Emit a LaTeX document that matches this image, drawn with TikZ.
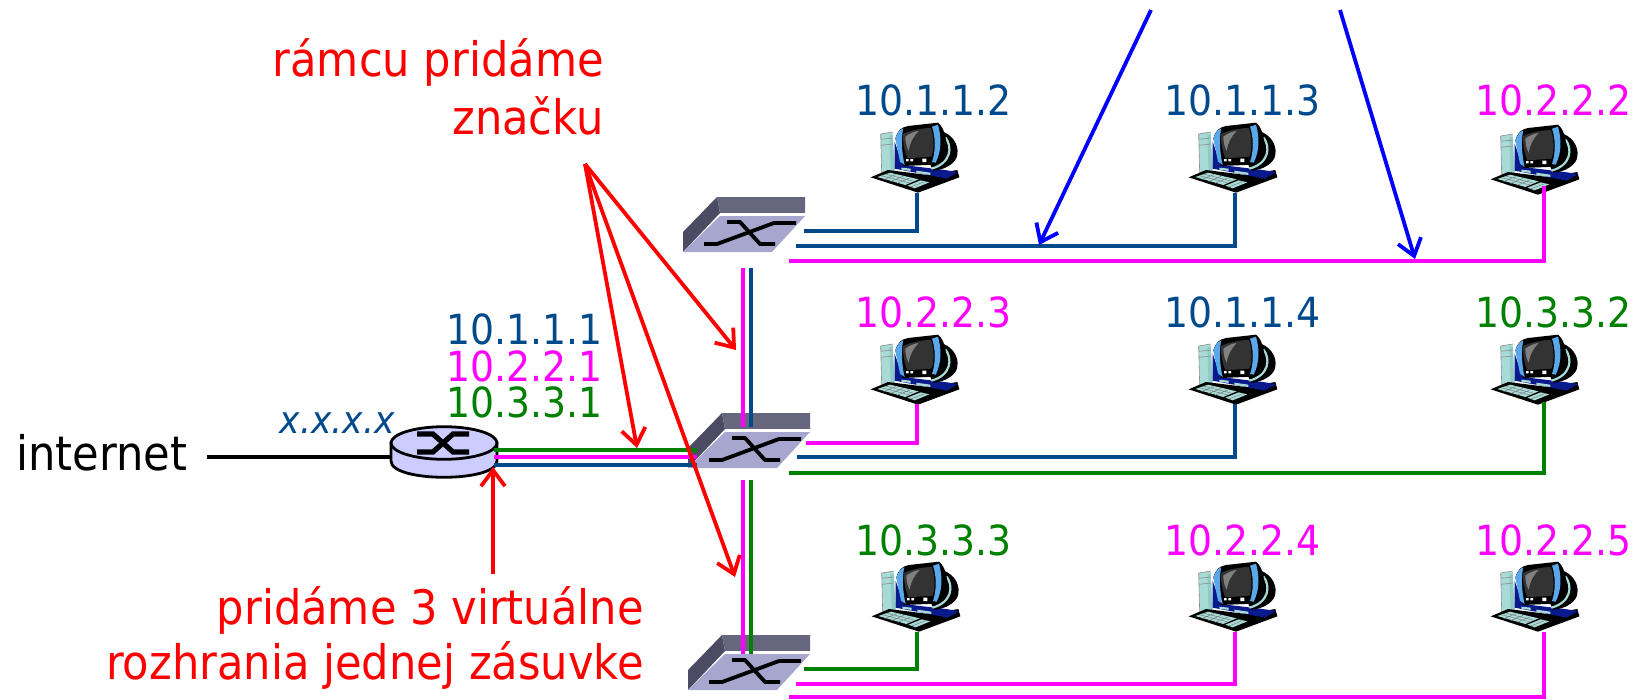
\documentclass[tikz,border=0pt]{standalone}
\usepackage{fontspec}
\setmainfont{DejaVu Sans}[FakeStretch=0.91]
\usetikzlibrary{arrows.meta}
\definecolor{netblue}{HTML}{004A8C}
\definecolor{netgreen}{HTML}{008000}
\definecolor{netpink}{HTML}{FF00FF}
\definecolor{pcteal}{HTML}{A8DAD6}
\definecolor{pcteald}{HTML}{8FCBC6}
\definecolor{pcnavy}{HTML}{0A1A8C}
\definecolor{pcbez}{HTML}{5AA8EA}
\definecolor{swface}{HTML}{A6A6CF}
\definecolor{swtop}{HTML}{66667F}
\definecolor{swleft}{HTML}{4B4B63}
\definecolor{rtfill}{HTML}{CCCCFF}
\tikzset{
 lab/.style={inner sep=0pt,font=\fontsize{41.5}{41.5}\selectfont,anchor=base west},
 labr/.style={lab,anchor=base east},
 bigl/.style={labr,font=\fontsize{47.5}{47.5}\selectfont},
 wireb/.style={draw=netblue,line width=3.7pt,line join=miter},
 wireg/.style={draw=netgreen,line width=3.7pt},
 wirep/.style={draw=netpink,line width=3.7pt},
 redarrow/.style={draw=red,line width=3.8pt,-{Straight Barb[length=16pt,width=24pt,line width=3.8pt]}},
 bluearrow/.style={draw=blue,line width=3.8pt,-{Straight Barb[length=16pt,width=24pt,line width=3.8pt]}},
 computer/.pic={
  \begin{scope}[scale=1/3]
   % tower
   \fill[pcteal] (38,42)--(74,36)--(80,155)--(41,160)--cycle;
   \fill[pcteald] (64,46)--(74,44)--(80,155)--(68,158)--cycle;
   \draw[black!45,line width=.6pt] (38,42)--(74,36) (38,58)--(74,54) (38,76)--(75,72) (38,42)--(41,160);
   % base
   \fill[black] (8,172)--(60,150)--(180,165)--(268,150)--(274,172)--(150,218)--cycle;
   % navy body
   \fill[pcnavy] (80,65)--(104,135)--(230,150)--(270,156)--(236,176)--(185,166)--(80,146)--cycle;
   % arc
   \fill[black] (225,35) .. controls (262,50) and (275,85) .. (266,112) .. controls (258,132) and (230,150) .. (195,152) -- (185,130) -- (215,125) -- cycle;
   \draw[pcteal,line width=2.2pt] (232,52) .. controls (254,80) and (250,130) .. (190,146);
   % monitor
   \fill[black] (82,55) .. controls (90,30) and (100,22) .. (120,18) -- (210,8) .. controls (226,20) and (236,50) .. (236,90) .. controls (232,110) and (218,128) .. (200,134) -- (104,138) -- cycle;
   \fill[pcbez] (82,55) .. controls (88,38) and (96,28) .. (106,25) .. controls (99,50) and (101,100) .. (110,135) -- (96,125) -- cycle;
   \fill[pcbez] (192,20) -- (210,14) .. controls (220,50) and (222,90) .. (203,128) -- (192,126) .. controls (204,90) and (202,50) .. cycle;
   \fill[black!80] (105,42) .. controls (130,30) and (165,24) .. (189,24) .. controls (199,55) and (199,90) .. (190,110) -- (118,115) .. controls (108,90) and (104,65) .. cycle;
   \fill[black!50] (112,50) .. controls (125,40) and (140,34) .. (152,33) .. controls (135,50) and (125,70) .. (122,92) .. controls (115,80) and (112,65) .. cycle;
   \fill[white] (114,117) rectangle (122,124) (127,117) rectangle (135,124) (163,116) rectangle (175,126);
   % stand strips
   \fill[pcteal] (100,143)--(128,146)--(128,153)--(100,149)--cycle (145,152)--(187,158)--(187,165)--(145,159)--cycle;
   % keyboard
   \fill[pcteal] (28,171)--(66,158)--(152,178)--(112,195)--cycle;
   \fill[pcteal] (118,197)--(158,181)--(184,187)--(140,205)--cycle;
   \draw[black!55,line width=.4pt] (40,167)--(126,189) (52,162)--(138,184) (47,179)--(85,163) (67,185)--(105,169) (87,190)--(125,174) (128,201)--(170,185);
  \end{scope}
 },
 ethswitch/.pic={
   \fill[swleft] (34,0)--(37,16)--(0,55)--(0,35)--cycle;
   \fill[swtop] (34,0)--(122,0)--(122,16)--(37,16)--cycle;
   \fill[white] (37,16)--(122,16)--(122,20)--(37,20)--cycle;
   \fill[swface] (37,19)--(122,19)--(89,55)--(0,55)--cycle;
   \draw[black,line width=3.8pt] (44,25)--(57,25)--(77,47)--(92,47);
   \draw[black,line width=3.8pt] (21,47)--(34,47)--(91,26)--(113,26);
 }
}
\begin{document}
\begin{tikzpicture}[x=1pt,y=-1pt]
\useasboundingbox (0,0) rectangle (1637,699);
% router
\coordinate (inetend) at (207,457);
\coordinate (rleft) at (395,457);
\draw[black,line width=3.2pt] (inetend)--(rleft);
\node[bigl,anchor=base west] (inet) at (16,470) {internet};
\filldraw[fill=rtfill,draw=black,line width=2.8pt] (391,443) -- (391,461) .. controls (391,482.7) and (497,482.7) .. (497,461) -- (497,443) -- cycle;
\filldraw[fill=rtfill,draw=black,line width=2.8pt] (444,443) ellipse[x radius=53,y radius=16.3];
\draw[black,line width=5.2pt] (417,434)--(433,434)--(453,452)--(469,452);
\draw[black,line width=5.2pt] (417,452)--(433,452)--(453,434)--(469,434);
\coordinate (router) at (444,443);
% switches
\coordinate (sw1) at (683,197);
\coordinate (sw2) at (688,413);
\coordinate (sw3) at (688,635);
\pic at (sw1) {ethswitch};
\pic at (sw2) {ethswitch};
\pic at (sw3) {ethswitch};
% computers
\foreach \n/\x/\y in {a/868/120,b/1186/120,c/1488/122,d/868/332,e/1186/332,f/1488/332,g/869/559,h/1186/559,i/1488/559}
  \pic at (\x,\y) {computer};
% ports
\coordinate (ha) at (917,193); \coordinate (hb) at (1235,193); \coordinate (hc) at (1544,186);
\coordinate (hd) at (917,404); \coordinate (he) at (1235,404); \coordinate (hf) at (1544,402);
\coordinate (hg) at (917,632); \coordinate (hh) at (1235,632); \coordinate (hi) at (1544,632);
\coordinate (s1a) at (804,231); \coordinate (s1b) at (796,246); \coordinate (s1c) at (789,261);
\coordinate (s2a) at (806,443); \coordinate (s2b) at (797,457); \coordinate (s2c) at (789,473);
\coordinate (s3a) at (804,669); \coordinate (s3b) at (796,684); \coordinate (s3c) at (789,697);
\draw[wireb] (s1a) -| (ha);
\draw[wireb] (s1b) -| (hb);
\draw[wirep] (s1c) -| (hc);
\draw[wirep] (s2a) -| (hd);
\draw[wireb] (s2b) -| (he);
\draw[wireg] (s2c) -| (hf);
\draw[wireg] (s3a) -| (hg);
\draw[wirep] (s3b) -| (hh);
\draw[wirep] (s3c) -| (hi);
% trunks
\coordinate (t1p) at (743,268); \coordinate (t1pe) at (743,427);
\coordinate (t1b) at (751,268); \coordinate (t1be) at (751,427);
\coordinate (t2p) at (743,480); \coordinate (t2pe) at (743,654);
\coordinate (t2g) at (751,480); \coordinate (t2ge) at (751,654);
\draw[wirep] (t1p)--(t1pe); \draw[wireb] (t1b)--(t1be);
\draw[wirep] (t2p)--(t2pe); \draw[wireg] (t2g)--(t2ge);
\coordinate (rg) at (494,450); \coordinate (rp) at (494,457); \coordinate (rb) at (494,465);
\coordinate (sg) at (697,450); \coordinate (sp) at (697,457); \coordinate (sb) at (697,465);
\draw[wireg] (rg)--(sg); \draw[wirep] (rp)--(sp); \draw[wireb] (rb)--(sb);
% labels
\node[lab,text=netblue] (la) at (855,115) {10.1.1.2};
\node[lab,text=netblue] (lb) at (1164,115) {10.1.1.3};
\node[lab,text=netpink] (lc) at (1475,115) {10.2.2.2};
\node[lab,text=netpink] (ld) at (855,327) {10.2.2.3};
\node[lab,text=netblue] (le) at (1164,327) {10.1.1.4};
\node[lab,text=netgreen] (lf) at (1475,327) {10.3.3.2};
\node[lab,text=netgreen] (lg) at (855,555) {10.3.3.3};
\node[lab,text=netpink] (lh) at (1164,555) {10.2.2.4};
\node[lab,text=netpink] (li) at (1475,555) {10.2.2.5};
\node[labr,text=netblue] (r1) at (603,344) {10.1.1.1};
\node[labr,text=netpink] (r2) at (603,381) {10.2.2.1};
\node[labr,text=netgreen] (r3) at (603,417) {10.3.3.1};
\node[labr,text=netblue,font=\fontsize{38}{38}\selectfont\itshape] (x) at (395,433) {x.x.x.x};
\node[bigl,text=red] (t1) at (604,76) {rámcu pridáme};
\node[bigl,text=red] (t2) at (604,134) {značku};
\node[bigl,text=red] (t3) at (644,624) {pridáme 3 virtuálne};
\node[bigl,text=red] (t4) at (644,679) {rozhrania jednej zásuvke};
% arrows
\coordinate (tag) at (585,164);
\coordinate (tip1) at (736,350); \coordinate (tip2) at (637,448); \coordinate (tip3) at (735,577);
\draw[redarrow] (tag)--(tip1);
\draw[redarrow] (tag)--(tip2);
\draw[redarrow] (tag)--(tip3);
\coordinate (vs) at (493,574); \coordinate (vt) at (493,467);
\draw[redarrow] (vs)--(vt);
\coordinate (b1s) at (1151,10); \coordinate (b1t) at (1039,245);
\coordinate (b2s) at (1340,10); \coordinate (b2t) at (1415,259);
\draw[bluearrow] (b1s)--(b1t);
\draw[bluearrow] (b2s)--(b2t);
\end{tikzpicture}
\end{document}
